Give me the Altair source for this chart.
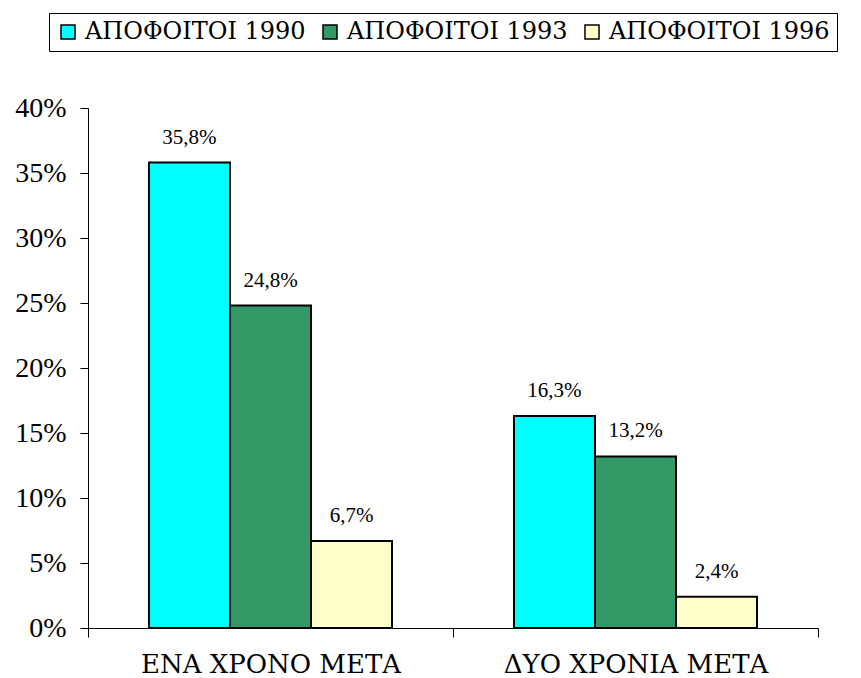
import altair as alt
import pandas as pd

categories = ["ΕΝΑ ΧΡΟΝΟ ΜΕΤΑ", "ΔΥΟ ΧΡΟΝΙΑ ΜΕΤΑ"]
series = ["ΑΠΟΦΟΙΤΟΙ 1990", "ΑΠΟΦΟΙΤΟΙ 1993", "ΑΠΟΦΟΙΤΟΙ 1996"]
values_1990 = [0.358, 0.163]
values_1993 = [0.248, 0.132]
values_1996 = [0.067, 0.024]
colors = ["#00FFFF", "#339966", "#FFFFCC"]
y_ticks = [0, 0.05, 0.10, 0.15, 0.20, 0.25, 0.30, 0.35, 0.40]

rows = []
for s, vals in zip(series, [values_1990, values_1993, values_1996]):
    for c, v in zip(categories, vals):
        rows.append({"cat": c, "series": s, "value": v,
                     "label": f"{v*100:.1f}".replace(".", ",") + "%"})
df = pd.DataFrame(rows)

FONT = "Liberation Serif"
GFONT = "DejaVu Serif"

x_enc = alt.X("cat:N", sort=categories, title=None,
              scale=alt.Scale(paddingInner=0, paddingOuter=0),
              axis=alt.Axis(labelAngle=0, tickBand="extent", tickSize=9,
                            labelPadding=14, labelFontSize=26, labelFont=GFONT,
                            labelLimit=0,
                            labelColor="black", domainColor="black", tickColor="black"))
xo_enc = alt.XOffset("series:N", sort=series,
                     scale=alt.Scale(paddingInner=0, paddingOuter=0.753))
y_enc = alt.Y("value:Q", title=None,
              scale=alt.Scale(domain=[0, 0.4], nice=False),
              axis=alt.Axis(values=y_ticks, format=".0%", grid=False, tickSize=8,
                            labelPadding=14, labelFontSize=28, labelFont=FONT,
                            labelColor="black", domainColor="black", tickColor="black"))

bars = alt.Chart(df).mark_bar(stroke="black", strokeWidth=2).encode(
    x=x_enc, xOffset=xo_enc, y=y_enc,
    color=alt.Color("series:N", sort=series, title=None,
                    scale=alt.Scale(domain=series, range=colors),
                    legend=alt.Legend(orient="none", legendX=-39, legendY=-95,
                                      direction="horizontal", symbolType="square",
                                      symbolSize=196, symbolStrokeColor="black",
                                      symbolStrokeWidth=1.5, labelFontSize=24,
                                      labelFont=GFONT, labelColor="black",
                                      labelLimit=0,
                                      strokeColor="black", fillColor="white",
                                      padding=7, columnPadding=12, labelOffset=5)),
)

text = alt.Chart(df).mark_text(baseline="bottom", dy=-15, fontSize=21,
                               font=FONT, color="black").encode(
    x=alt.X("cat:N", sort=categories), xOffset=alt.XOffset("series:N", sort=series),
    y="value:Q", text="label:N")

chart = alt.layer(bars, text).properties(
    width=730, height=520,
    padding={"left": 6, "top": 4, "right": 0, "bottom": 0},
).configure_view(stroke=None)

chart.save("out.html", embed_options={"renderer": "svg", "actions": False})
